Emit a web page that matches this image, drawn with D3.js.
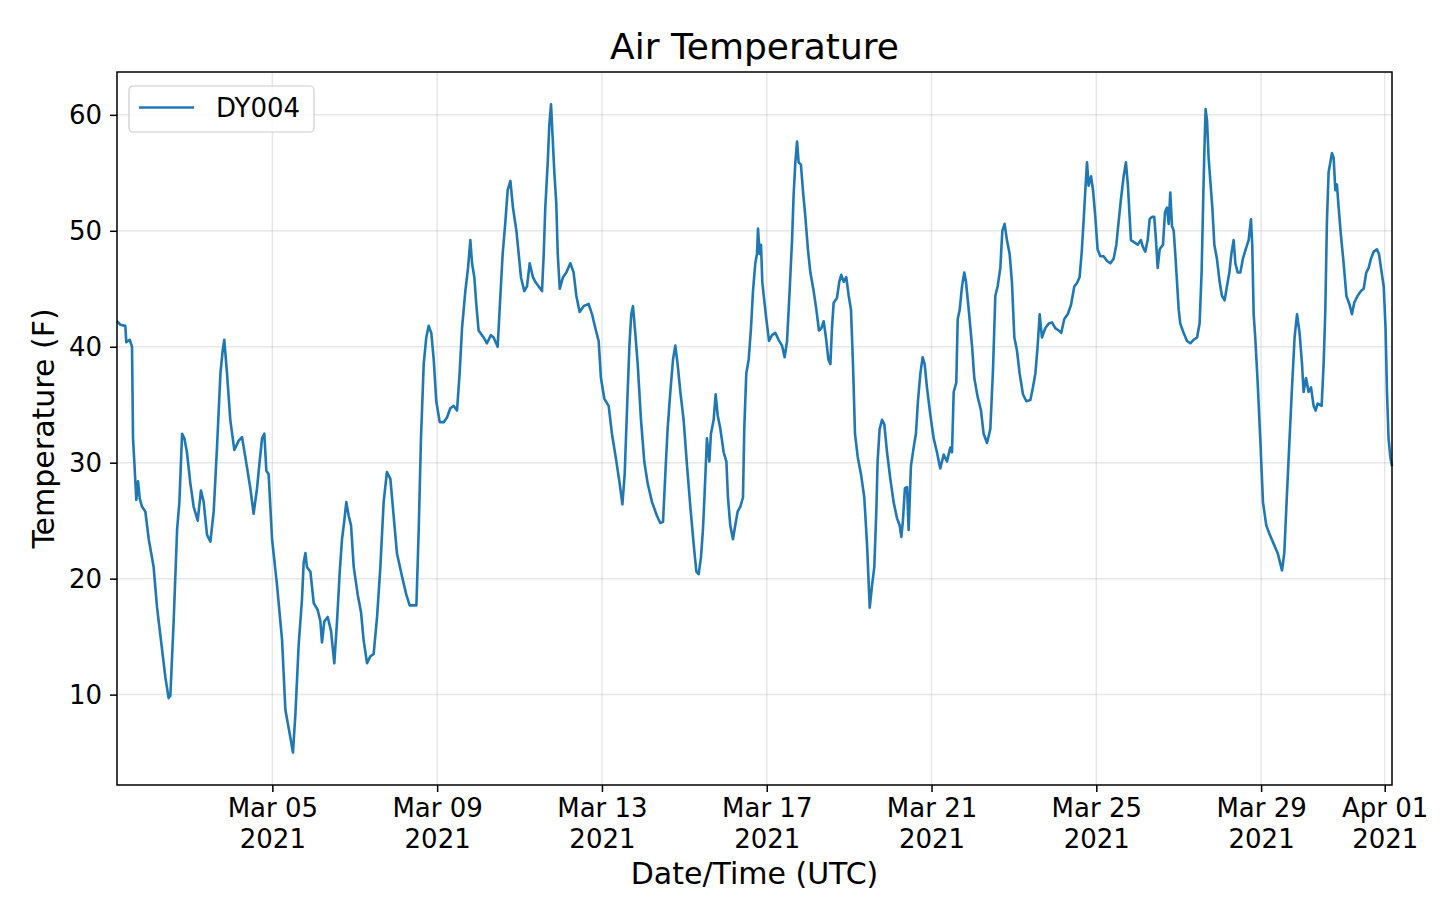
<!DOCTYPE html>
<html>
<head>
<meta charset="utf-8">
<script src="https://cdn.jsdelivr.net/npm/d3@7"></script>
<style>
    body { margin: 0; background: #ffffff; }
    svg { display: block; font-family: "DejaVu Sans", sans-serif; }
</style>
</head>
<body>
<svg id="chart" width="1440" height="905"></svg>
<script>
const chartTitle = "Air Temperature";
const seriesName = "DY004";
const xLabel = "Date/Time (UTC)";
const yLabel = "Temperature (F)";

// logger readings, UTC, 2021 (MM-DD HH:MM)
const times = [
    "03-01 05:30", "03-01 07:30", "03-01 10:20", "03-01 10:55", "03-01 12:55", "03-01 14:15", "03-01 14:50", "03-01 15:35",
    "03-01 16:45", "03-01 17:45", "03-01 18:45", "03-01 20:05", "03-01 22:00", "03-02 00:00", "03-02 02:50", "03-02 04:50",
    "03-02 07:45", "03-02 09:40", "03-02 11:35", "03-02 12:35", "03-02 14:30", "03-02 16:30", "03-02 17:50", "03-02 19:25",
    "03-02 20:45", "03-02 22:15", "03-03 00:15", "03-03 02:10", "03-03 04:30", "03-03 06:25", "03-03 08:00", "03-03 09:55",
    "03-03 11:55", "03-03 13:50", "03-03 15:45", "03-03 17:45", "03-03 19:05", "03-03 20:00", "03-03 21:35", "03-03 23:30",
    "03-04 01:50", "03-04 04:25", "03-04 06:20", "03-04 08:15", "03-04 11:10", "03-04 13:05", "03-04 15:05", "03-04 16:35",
    "03-04 18:00", "03-04 19:20", "03-04 20:30", "03-04 21:50", "03-04 23:50", "03-05 02:45", "03-05 05:40", "03-05 07:35",
    "03-05 10:30", "03-05 12:00", "03-05 13:25", "03-05 15:20", "03-05 17:15", "03-05 18:15", "03-05 19:15", "03-05 20:10",
    "03-05 22:10", "03-06 00:05", "03-06 02:25", "03-06 04:00", "03-06 04:55", "03-06 06:15", "03-06 08:15", "03-06 10:10",
    "03-06 12:05", "03-06 13:40", "03-06 15:15", "03-06 16:35", "03-06 17:55", "03-06 19:05", "03-06 20:30", "03-06 21:50",
    "03-06 23:25", "03-07 01:45", "03-07 03:40", "03-07 05:10", "03-07 07:10", "03-07 09:05", "03-07 11:00", "03-07 13:00",
    "03-07 14:55", "03-07 16:50", "03-07 18:45", "03-07 20:45", "03-07 22:40", "03-08 00:35", "03-08 03:30", "03-08 06:05",
    "03-08 08:00", "03-08 11:55", "03-08 13:15", "03-08 14:35", "03-08 16:10", "03-08 17:40", "03-08 19:05", "03-08 20:35",
    "03-08 22:00", "03-08 23:30", "03-09 01:30", "03-09 03:50", "03-09 05:45", "03-09 07:40", "03-09 09:40", "03-09 11:35",
    "03-09 13:05", "03-09 14:30", "03-09 16:25", "03-09 18:00", "03-09 19:20", "03-09 20:20", "03-09 21:40", "03-09 22:50",
    "03-10 00:10", "03-10 03:05", "03-10 05:00", "03-10 07:20", "03-10 08:55", "03-10 11:15", "03-10 12:50", "03-10 14:10",
    "03-10 15:45", "03-10 17:05", "03-10 18:40", "03-10 20:10", "03-10 22:10", "03-10 23:30", "03-11 00:50", "03-11 02:45",
    "03-11 04:20", "03-11 05:55", "03-11 07:50", "03-11 09:10", "03-11 11:10", "03-11 13:05", "03-11 14:05", "03-11 15:00",
    "03-11 16:25", "03-11 17:20", "03-11 18:20", "03-11 19:20", "03-11 20:15", "03-11 21:25", "03-11 22:15", "03-11 23:25",
    "03-12 01:20", "03-12 03:15", "03-12 05:35", "03-12 07:30", "03-12 09:05", "03-12 11:00", "03-12 13:20", "03-12 16:15",
    "03-12 18:15", "03-12 20:10", "03-12 22:05", "03-12 23:25", "03-13 01:25", "03-13 03:55", "03-13 05:50", "03-13 08:25",
    "03-13 10:20", "03-13 11:55", "03-13 13:15", "03-13 14:35", "03-13 16:00", "03-13 17:05", "03-13 18:05", "03-13 19:25",
    "03-13 20:50", "03-13 22:45", "03-14 00:40", "03-14 02:40", "03-14 05:10", "03-14 08:05", "03-14 10:00", "03-14 11:35",
    "03-14 12:55", "03-14 14:15", "03-14 15:50", "03-14 17:25", "03-14 18:45", "03-14 20:05", "03-14 21:40", "03-14 23:35",
    "03-15 01:35", "03-15 03:30", "03-15 05:25", "03-15 07:00", "03-15 08:20", "03-15 09:40", "03-15 10:50", "03-15 11:50",
    "03-15 13:10", "03-15 14:35", "03-15 15:30", "03-15 17:05", "03-15 18:15", "03-15 19:25", "03-15 21:00", "03-15 22:55",
    "03-16 00:30", "03-16 01:25", "03-16 02:45", "03-16 04:20", "03-16 05:40", "03-16 07:05", "03-16 08:35", "03-16 10:10",
    "03-16 10:55", "03-16 12:05", "03-16 13:30", "03-16 14:50", "03-16 16:00", "03-16 17:20", "03-16 18:20", "03-16 18:55",
    "03-16 19:55", "03-16 20:40", "03-16 21:25", "03-16 22:15", "03-16 23:45", "03-17 01:20", "03-17 03:05", "03-17 05:00",
    "03-17 06:55", "03-17 08:55", "03-17 10:25", "03-17 11:50", "03-17 13:20", "03-17 14:45", "03-17 15:40", "03-17 16:40",
    "03-17 17:40", "03-17 18:35", "03-17 19:55", "03-17 21:05", "03-17 22:30", "03-18 00:00", "03-18 01:25", "03-18 03:20",
    "03-18 04:55", "03-18 06:25", "03-18 07:50", "03-18 09:10", "03-18 10:30", "03-18 11:55", "03-18 13:05", "03-18 14:00",
    "03-18 15:00", "03-18 16:55", "03-18 18:15", "03-18 19:25", "03-18 20:50", "03-18 22:20", "03-18 23:45", "03-19 01:05",
    "03-19 02:15", "03-19 03:25", "03-19 05:00", "03-19 06:55", "03-19 08:50", "03-19 10:25", "03-19 12:00", "03-19 13:20",
    "03-19 14:40", "03-19 15:50", "03-19 16:35", "03-19 17:45", "03-19 19:10", "03-19 20:30", "03-19 22:05", "03-20 00:00",
    "03-20 01:55", "03-20 03:55", "03-20 05:25", "03-20 06:25", "03-20 07:20", "03-20 08:30", "03-20 09:45", "03-20 10:40",
    "03-20 12:00", "03-20 13:35", "03-20 14:55", "03-20 16:05", "03-20 17:30", "03-20 18:50", "03-20 20:00", "03-20 21:20",
    "03-20 23:20", "03-21 01:15", "03-21 03:10", "03-21 05:05", "03-21 07:05", "03-21 09:00", "03-21 10:55", "03-21 11:55",
    "03-21 12:55", "03-21 14:25", "03-21 15:15", "03-21 16:25", "03-21 17:45", "03-21 19:05", "03-21 20:05", "03-21 21:40",
    "03-21 23:35", "03-22 00:55", "03-22 02:50", "03-22 04:50", "03-22 06:20", "03-22 08:20", "03-22 10:15", "03-22 11:50",
    "03-22 13:10", "03-22 14:30", "03-22 16:05", "03-22 17:15", "03-22 18:35", "03-22 19:55", "03-22 21:30", "03-22 22:50",
    "03-23 00:15", "03-23 01:45", "03-23 03:20", "03-23 05:15", "03-23 07:15", "03-23 09:35", "03-23 11:05", "03-23 12:30",
    "03-23 13:50", "03-23 15:00", "03-23 16:20", "03-23 18:15", "03-23 20:15", "03-23 22:10", "03-24 00:05", "03-24 02:05",
    "03-24 03:35", "03-24 05:20", "03-24 07:20", "03-24 09:15", "03-24 11:10", "03-24 12:45", "03-24 14:15", "03-24 15:25",
    "03-24 16:35", "03-24 17:35", "03-24 18:35", "03-24 19:30", "03-24 20:55", "03-24 22:05", "03-24 23:25", "03-25 00:45",
    "03-25 02:20", "03-25 04:15", "03-25 06:15", "03-25 08:10", "03-25 10:05", "03-25 11:40", "03-25 13:00", "03-25 14:20",
    "03-25 15:55", "03-25 17:15", "03-25 18:25", "03-25 19:25", "03-25 20:10", "03-25 22:10", "03-26 00:05", "03-26 02:00",
    "03-26 03:10", "03-26 04:30", "03-26 05:55", "03-26 07:05", "03-26 08:25", "03-26 09:45", "03-26 10:45", "03-26 11:45",
    "03-26 12:55", "03-26 14:50", "03-26 16:00", "03-26 17:10", "03-26 18:10", "03-26 19:05", "03-26 20:05", "03-26 21:05",
    "03-26 22:00", "03-26 23:00", "03-27 00:00", "03-27 00:55", "03-27 02:50", "03-27 04:50", "03-27 06:45", "03-27 08:40",
    "03-27 10:40", "03-27 12:10", "03-27 13:20", "03-27 14:10", "03-27 14:55", "03-27 15:40", "03-27 16:30", "03-27 17:25",
    "03-27 18:25", "03-27 19:35", "03-27 20:45", "03-27 22:15", "03-27 23:50", "03-28 01:10", "03-28 02:45", "03-28 04:05",
    "03-28 05:30", "03-28 06:40", "03-28 08:00", "03-28 09:00", "03-28 10:20", "03-28 11:55", "03-28 13:25", "03-28 15:00",
    "03-28 16:45", "03-28 18:05", "03-28 18:50", "03-28 19:40", "03-28 20:35", "03-28 22:00", "03-28 23:30", "03-29 01:05",
    "03-29 03:00", "03-29 05:00", "03-29 07:20", "03-29 09:40", "03-29 12:10", "03-29 13:30", "03-29 15:05", "03-29 16:35",
    "03-29 18:00", "03-29 19:30", "03-29 20:55", "03-29 22:25", "03-29 23:50", "03-30 00:45", "03-30 02:10", "03-30 03:40",
    "03-30 05:05", "03-30 06:35", "03-30 07:45", "03-30 08:55", "03-30 11:15", "03-30 12:25", "03-30 13:25", "03-30 14:20",
    "03-30 15:20", "03-30 16:20", "03-30 17:15", "03-30 18:15", "03-30 19:15", "03-30 20:10", "03-30 21:10", "03-30 22:30",
    "03-31 00:05", "03-31 01:40", "03-31 03:35", "03-31 04:55", "03-31 06:15", "03-31 08:15", "03-31 10:10", "03-31 11:45",
    "03-31 13:15", "03-31 14:40", "03-31 16:00", "03-31 17:35", "03-31 19:30", "03-31 20:40", "03-31 21:50", "03-31 23:25",
    "04-01 00:30", "04-01 01:20", "04-01 02:15", "04-01 03:15", "04-01 04:15"
];

const airTempF = [
    42.2, 41.9, 41.8, 40.4, 40.6, 40.0, 32.1, 30.1,
    26.8, 28.4, 26.9, 26.2, 25.8, 23.4, 21.0, 17.5,
    13.9, 11.5, 9.7, 9.9, 16.3, 24.2, 26.6, 32.5,
    32.1, 30.9, 28.2, 26.2, 25.0, 27.6, 26.6, 23.8,
    23.2, 25.8, 31.3, 37.7, 39.7, 40.6, 37.7, 33.7,
    31.1, 31.9, 32.2, 30.5, 27.8, 25.6, 27.8, 30.1,
    32.1, 32.5, 29.3, 29.0, 23.4, 19.4, 14.7, 8.7,
    6.3, 5.0, 8.3, 14.3, 18.2, 21.4, 22.2, 21.0,
    20.6, 17.9, 17.3, 16.3, 14.5, 16.3, 16.7, 15.5,
    12.7, 16.3, 20.6, 23.4, 25.0, 26.6, 25.4, 24.6,
    21.0, 18.6, 17.1, 14.7, 12.7, 13.3, 13.5, 16.7,
    21.0, 26.6, 29.2, 28.6, 25.4, 22.2, 20.2, 18.6,
    17.7, 17.7, 24.2, 32.1, 38.5, 40.8, 41.8, 41.2,
    38.9, 35.3, 33.5, 33.5, 33.9, 34.7, 34.9, 34.5,
    37.7, 41.6, 44.8, 46.8, 49.2, 47.2, 46.0, 43.6,
    41.4, 40.8, 40.3, 41.0, 40.8, 40.0, 44.4, 48.0,
    50.8, 53.5, 54.3, 52.0, 50.0, 48.0, 46.0, 44.8,
    45.2, 47.2, 46.0, 45.6, 45.2, 44.8, 48.0, 52.0,
    55.9, 59.1, 60.9, 57.9, 55.1, 52.3, 48.0, 45.0,
    46.0, 46.4, 47.2, 46.4, 44.4, 43.0, 43.5, 43.7,
    42.8, 41.6, 40.5, 37.3, 35.5, 34.9, 32.5, 30.1,
    28.2, 26.4, 29.0, 34.5, 40.1, 42.8, 43.5, 41.2,
    38.5, 33.7, 30.1, 28.2, 26.6, 25.4, 24.8, 24.9,
    29.0, 32.9, 36.1, 38.9, 40.1, 38.5, 36.1, 33.7,
    29.7, 26.2, 23.0, 20.6, 20.4, 21.8, 24.2, 27.4,
    32.1, 30.1, 32.5, 33.7, 35.9, 34.1, 32.9, 30.9,
    30.1, 27.0, 24.6, 23.4, 24.6, 25.8, 26.2, 27.0,
    32.9, 37.7, 38.9, 41.6, 44.8, 47.2, 48.0, 50.2,
    48.0, 48.8, 45.6, 44.4, 42.4, 40.5, 41.0, 41.2,
    40.6, 40.1, 39.1, 40.5, 44.8, 49.2, 53.1, 55.9,
    57.7, 55.9, 55.7, 53.5, 51.2, 48.4, 46.4, 44.8,
    43.2, 41.4, 41.6, 42.2, 40.8, 38.9, 38.5, 41.6,
    43.8, 44.2, 45.6, 46.2, 45.6, 46.0, 44.4, 43.2,
    38.5, 32.5, 30.5, 29.0, 27.0, 23.0, 17.5, 19.4,
    21.0, 25.8, 30.1, 32.9, 33.7, 33.3, 30.9, 28.6,
    26.6, 25.2, 24.6, 23.6, 25.0, 27.8, 27.9, 24.2,
    29.7, 31.3, 32.5, 35.3, 37.7, 39.1, 38.5, 36.5,
    34.1, 32.1, 30.9, 29.5, 30.7, 30.1, 31.3, 30.9,
    36.1, 36.9, 42.4, 43.2, 45.2, 46.4, 45.6, 43.2,
    40.1, 37.3, 35.7, 34.5, 32.5, 31.7, 32.9, 38.1,
    44.4, 45.2, 46.8, 50.0, 50.6, 49.2, 48.0, 45.6,
    40.8, 39.7, 37.7, 35.9, 35.3, 35.4, 36.5, 37.7,
    40.1, 42.8, 40.8, 41.6, 42.0, 42.1, 41.6, 41.4,
    41.2, 42.4, 42.8, 43.6, 45.2, 45.5, 46.0, 48.0,
    50.8, 53.5, 55.9, 53.9, 54.7, 53.5, 51.2, 48.4,
    47.8, 47.8, 47.4, 47.2, 47.6, 48.8, 50.8, 52.7,
    54.7, 55.9, 53.9, 51.2, 49.2, 49.0, 48.8, 49.2,
    48.6, 48.2, 49.2, 51.0, 51.2, 51.2, 49.2, 46.8,
    48.4, 48.8, 51.6, 52.0, 50.6, 53.3, 50.4, 50.0,
    48.0, 45.6, 43.2, 42.0, 41.2, 40.5, 40.3, 40.6,
    40.8, 42.0, 46.4, 52.0, 56.7, 60.5, 59.5, 56.3,
    54.3, 52.0, 48.8, 47.6, 45.6, 44.4, 44.0, 45.2,
    46.4, 48.0, 49.2, 47.2, 46.4, 46.4, 47.6, 48.4,
    49.2, 51.0, 48.8, 42.8, 40.8, 36.9, 32.1, 26.6,
    24.6, 23.8, 23.0, 22.2, 20.7, 22.2, 27.4, 32.1,
    36.5, 40.8, 42.8, 41.2, 38.5, 36.1, 37.3, 36.1,
    36.5, 34.9, 34.5, 35.1, 34.9, 38.5, 43.2, 50.8,
    55.1, 55.9, 56.7, 56.3, 53.5, 54.0, 52.0, 49.6,
    47.2, 44.4, 43.6, 42.8, 43.8, 44.4, 44.8, 45.0,
    46.4, 46.8, 47.6, 48.2, 48.4, 48.0, 46.8, 45.2,
    41.6, 36.1, 32.1, 30.5, 29.7
];

const xTickDates = ["2021-03-05", "2021-03-09", "2021-03-13", "2021-03-17", "2021-03-21", "2021-03-25", "2021-03-29", "2021-04-01"];
const yTicks = [10, 20, 30, 40, 50, 60];

const margin = { top: 72, right: 48, bottom: 120, left: 117 };
const width = 1440 - margin.left - margin.right;
const height = 905 - margin.top - margin.bottom;

const parseTime = d3.utcParse("%Y-%m-%d %H:%M");
const parseDay = d3.utcParse("%Y-%m-%d");
const fmtDay = d3.utcFormat("%b %d");
const fmtYear = d3.utcFormat("%Y");

const data = times.map((t, i) => ({ date: parseTime("2021-" + t), value: airTempF[i] }));
const tickDates = xTickDates.map(d => parseDay(d));

// Define the scales (x fitted to the data, y with 5% padding)
const xScale = d3.scaleUtc()
    .domain(d3.extent(data, d => d.date))
    .range([0, width]);

const [yMin, yMax] = d3.extent(airTempF);
const yPad = (yMax - yMin) * 0.05;
const yScale = d3.scaleLinear()
    .domain([yMin - yPad, yMax + yPad])
    .range([height, 0]);

const svg = d3.select("#chart")
    .append("g")
    .attr("transform", `translate(${margin.left},${margin.top})`);

// Grid
const grid = svg.append("g")
    .attr("stroke", "#b0b0b0")
    .attr("stroke-opacity", 0.3)
    .attr("stroke-width", 1.5);

grid.selectAll(".vgrid")
    .data(tickDates)
    .join("line")
    .attr("x1", d => xScale(d))
    .attr("x2", d => xScale(d))
    .attr("y1", 0)
    .attr("y2", height);

grid.selectAll(".hgrid")
    .data(yTicks)
    .join("line")
    .attr("x1", 0)
    .attr("x2", width)
    .attr("y1", d => yScale(d))
    .attr("y2", d => yScale(d));

// Add the line
svg.append("path")
    .datum(data)
    .attr("fill", "none")
    .attr("stroke", "#1f77b4")
    .attr("stroke-width", 2.6)
    .attr("stroke-linejoin", "round")
    .attr("d", d3.line()
        .x(d => xScale(d.date))
        .y(d => yScale(d.value))
    );

// Add the x axis
const gx = svg.append("g")
    .attr("transform", `translate(0,${height})`)
    .call(d3.axisBottom(xScale)
        .tickValues(tickDates)
        .tickSize(7)
        .tickFormat(fmtDay));

gx.select(".domain").remove();
gx.selectAll(".tick line").attr("stroke", "#000").attr("stroke-width", 1.5);
gx.selectAll(".tick text").each(function (d) {
    const t = d3.select(this);
    t.text(null).attr("y", null).attr("dy", null)
        .attr("font-size", 26)
        .attr("font-family", "DejaVu Sans")
        .attr("fill", "#000");
    t.append("tspan").attr("x", 0).attr("y", 32).text(fmtDay(d));
    t.append("tspan").attr("x", 0).attr("y", 62.5).text(fmtYear(d));
});

// Add the y axis
const gy = svg.append("g")
    .call(d3.axisLeft(yScale)
        .tickValues(yTicks)
        .tickSize(7)
        .tickPadding(8));

gy.select(".domain").remove();
gy.selectAll(".tick line").attr("stroke", "#000").attr("stroke-width", 1.5);
gy.selectAll(".tick text")
    .attr("font-size", 26)
    .attr("font-family", "DejaVu Sans")
    .attr("fill", "#000")
    .attr("dy", "0.35em");

// Frame
svg.append("rect")
    .attr("width", width)
    .attr("height", height)
    .attr("fill", "none")
    .attr("stroke", "#000")
    .attr("stroke-width", 1.5);

// Labels
svg.append("text")
    .attr("x", width / 2)
    .attr("y", -13)
    .attr("text-anchor", "middle")
    .attr("font-size", 36)
    .text(chartTitle);

svg.append("text")
    .attr("x", width / 2)
    .attr("y", height + 99)
    .attr("text-anchor", "middle")
    .attr("font-size", 30)
    .text(xLabel);

svg.append("text")
    .attr("transform", `translate(${54 - margin.left},${height / 2}) rotate(-90)`)
    .attr("text-anchor", "middle")
    .attr("font-size", 30)
    .text(yLabel);

// Legend
const legend = svg.append("g").attr("transform", "translate(12,14)");
legend.append("rect")
    .attr("width", 185)
    .attr("height", 46)
    .attr("rx", 4)
    .attr("fill", "#fff")
    .attr("fill-opacity", 0.8)
    .attr("stroke", "#cccccc")
    .attr("stroke-width", 1.2);
legend.append("line")
    .attr("x1", 10)
    .attr("x2", 65)
    .attr("y1", 21.5)
    .attr("y2", 21.5)
    .attr("stroke", "#1f77b4")
    .attr("stroke-width", 2.6);
legend.append("text")
    .attr("x", 87)
    .attr("y", 31)
    .attr("font-size", 26)
    .text(seriesName);
</script>
</body>
</html>
